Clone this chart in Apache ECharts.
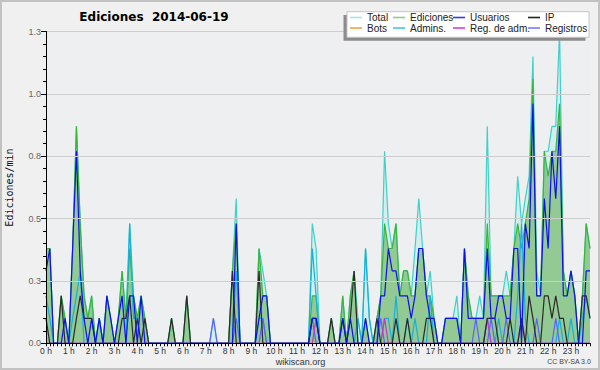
<!DOCTYPE html>
<html><head><meta charset="utf-8">
<script src="https://cdn.jsdelivr.net/npm/echarts@6/dist/echarts.min.js"></script>
<style>html,body{margin:0;padding:0;background:#f0f0f0}#c{width:600px;height:370px;}</style>
</head><body><div id="c"></div>
<script>
// 10-minute bins, hours 0..23
const hours = [0,1,2,3,4,5,6,7,8,9,10,11,12,13,14,15,16,17,18,19,20,21,22,23];
const minutes = [0,10,20,30,40,50];
const categories = [];
hours.forEach(h => minutes.forEach(m => categories.push(h + ':' + (m < 10 ? '0' + m : m))));

const yTicks = [0, 0.25, 0.5, 0.75, 1.0, 1.25];

const total = [
 0.38,0.38,0,0,0.19,0.1,  0,0.38,0.87,0.48,0.19,0.1,  0.19,0,0.1,0,0.19,0.1,  0,0.1,0.29,0.1,0.48,0.19,
 0.1,0.19,0.1,0,0,0,  0,0,0,0.1,0,0,  0,0.19,0,0,0,0,  0,0,0.1,0,0,0,
 0,0.29,0.58,0,0,0,  0,0,0.38,0.29,0.19,0,  0,0,0,0,0,0,  0,0,0,0,0.48,0.38,
 0,0,0,0.1,0,0,  0.19,0,0.19,0.29,0.1,0,  0.38,0.1,0,0.1,0.19,0.77,  0.48,0.38,0.48,0.19,0.29,0.29,
 0.19,0.38,0.58,0.38,0.19,0.29,  0.1,0,0,0.1,0.1,0.1,  0.19,0,0.38,0.19,0.1,0.1,  0.19,0.1,0.87,0.19,0.19,0.19,
 0.19,0.29,0.19,0.38,0.67,0.48,  0.58,0.67,1.15,0.29,0.19,0.77,  0.77,0.87,0.87,1.25,0.29,0.19,  0.29,0.19,0,0.19,0.48,0.38
];
const ediciones = [
 0.38,0.38,0,0,0.19,0.1,  0,0.38,0.87,0.48,0.19,0.1,  0.19,0,0.1,0,0.19,0.1,  0,0.1,0.29,0.1,0.38,0.19,
 0.1,0.19,0.1,0,0,0,  0,0,0,0.1,0,0,  0,0.19,0,0,0,0,  0,0,0,0,0,0,
 0,0.29,0.48,0,0,0,  0,0,0.38,0.19,0.19,0,  0,0,0,0,0,0,  0,0,0,0,0.19,0.19,
 0,0,0,0.1,0,0,  0.19,0,0.19,0.29,0,0,  0.1,0,0,0.1,0.19,0.48,  0.38,0.38,0.48,0.19,0.29,0.29,
 0.19,0.19,0.38,0.38,0.19,0.19,  0.1,0,0,0.1,0.1,0.1,  0.1,0,0.38,0.19,0.1,0.1,  0.1,0.1,0.48,0.19,0.19,0.19,
 0.19,0.19,0.19,0.38,0.48,0.38,  0.48,0.58,1.06,0.19,0.19,0.77,  0.67,0.77,0.77,0.96,0.29,0.19,  0.29,0.19,0,0.19,0.48,0.38
];
const usuarios = [
 0.29,0.38,0,0,0,0.1,  0,0.38,0.77,0.29,0.1,0,  0.1,0,0.1,0,0.19,0.1,  0,0.1,0.19,0,0.19,0.19,
 0,0.19,0,0,0,0,  0,0,0,0,0,0,  0,0,0,0,0,0,  0,0,0,0,0,0,
 0,0,0.48,0,0,0,  0,0,0.1,0.19,0.19,0,  0,0,0,0,0,0,  0,0,0,0,0.1,0.1,
 0,0,0,0,0,0,  0.1,0,0.1,0,0,0,  0.1,0,0,0,0.19,0.19,  0.38,0.29,0.29,0.19,0.19,0.19,
 0.1,0.19,0.38,0.38,0.19,0.1,  0.1,0,0,0.1,0.1,0.1,  0.1,0,0.38,0.1,0.1,0.1,  0.1,0.1,0.38,0.1,0.1,0.19,
 0.19,0.1,0.1,0.38,0.38,0,  0.48,0.38,0.96,0.19,0.19,0.58,  0.38,0.77,0.58,0.87,0.19,0.19,  0.29,0.19,0,0,0.29,0.29
];
const ip = [
 0.1,0,0,0,0.19,0,  0,0,0.1,0.19,0.1,0.1,  0.1,0,0,0,0,0,  0,0,0.1,0.1,0.19,0,
 0.1,0,0.1,0,0,0,  0,0,0,0.1,0,0,  0,0.19,0,0,0,0,  0,0,0,0,0,0,
 0,0.29,0,0,0,0,  0,0,0.29,0,0,0,  0,0,0,0,0,0,  0,0,0,0,0.1,0.1,
 0,0,0,0.1,0,0,  0.1,0,0.1,0.29,0,0,  0,0,0,0.1,0,0,  0,0,0.1,0,0,0.1,
 0,0,0,0,0.1,0.1,  0,0,0,0,0,0,  0,0,0,0,0,0,  0,0,0.1,0.1,0.1,0,
 0,0,0.1,0,0,0.1,  0,0.19,0.1,0,0,0.19,  0.19,0.1,0.19,0.1,0.1,0,  0,0,0,0.19,0.19,0.1
];
const bots = new Array(144).fill(0);
const admins = [
 0.19,0.1,0,0,0,0,  0,0.1,0.19,0.29,0,0,  0,0,0.1,0,0,0,  0,0,0,0,0.48,0.1,
 0.1,0,0,0,0,0,  0,0,0,0,0,0,  0,0,0,0,0,0,  0,0,0,0,0,0,
 0,0,0.29,0,0,0,  0,0,0.1,0.1,0,0,  0,0,0,0,0,0,  0,0,0,0,0.38,0.19,
 0,0,0,0,0,0,  0,0,0,0,0.1,0,  0.38,0.1,0,0,0,0.1,  0.1,0,0.19,0,0,0.1,
 0,0.1,0,0,0,0.19,  0,0,0,0,0,0,  0,0,0,0,0,0,  0,0,0.1,0,0,0.1,
 0,0,0,0,0.19,0.48,  0.1,0,0,0,0,0,  0,0,0,0.1,0,0,  0.1,0,0,0.1,0.19,0.1
];
const regAdm = [
 0,0,0,0,0,0,  0,0,0,0,0,0,  0,0,0,0,0,0,  0,0,0,0,0,0,
 0,0,0,0,0,0,  0,0,0,0,0,0,  0,0,0,0,0,0,  0,0,0,0,0,0,
 0,0,0,0,0,0,  0,0,0,0,0,0,  0,0,0,0,0,0,  0,0,0,0,0,0.1,
 0,0,0,0,0,0,  0,0,0,0,0,0,  0,0,0,0,0,0.1,  0,0,0,0,0,0,
 0,0,0,0,0,0,  0,0,0,0,0,0,  0,0,0,0,0,0,  0,0,0.1,0,0,0,
 0,0,0,0,0,0.1,  0,0,0,0,0,0,  0,0,0,0,0,0,  0,0,0,0,0,0
];
const registros = [
 0,0,0,0,0,0,  0,0,0,0,0,0,  0,0,0,0,0,0,  0,0,0,0,0,0,
 0,0,0,0,0,0,  0,0,0,0,0,0,  0,0,0,0,0,0,  0,0,0.1,0,0,0,
 0,0,0.1,0,0,0,  0,0,0,0.1,0,0,  0,0,0,0,0,0,  0,0,0,0,0.1,0,
 0,0,0,0,0,0,  0,0,0,0,0,0,  0,0,0,0,0.1,0,  0,0,0,0,0,0,
 0,0,0,0,0,0,  0,0,0,0,0,0,  0,0,0,0,0,0.1,  0,0,0,0.1,0,0,
 0,0.1,0,0,0,0,  0,0,0,0.1,0,0,  0,0,0.1,0,0,0,  0,0,0,0,0,0
];

const legendItems = [
 {name:'Total', color:'#a8e4e4', left:350, top:12.5},
 {name:'Ediciones', color:'#88d088', left:393, top:12.5},
 {name:'Usuarios', color:'#3a3ae0', left:453, top:12.5},
 {name:'IP', color:'#222222', left:528, top:12.5},
 {name:'Bots', color:'#f5a040', left:350, top:23},
 {name:'Admins.', color:'#40c8d8', left:393, top:23},
 {name:'Reg. de adm.', color:'#cc44dd', left:453, top:23},
 {name:'Registros', color:'#7a7aff', left:528, top:23}
];

function line(name, data, color, extra) {
  return Object.assign({
    name, type:'line', data, symbol:'none', showSymbol:false, animation:false,
    lineStyle:{color, width:1.2}, itemStyle:{color}, emphasis:{disabled:true}
  }, extra || {});
}

const chart = echarts.init(document.getElementById('c'), null, {renderer:'svg'});
chart.setOption({
  backgroundColor:'#f0f0f0',
  animation:false,
  grid:{left:46, right:10, top:31.5, bottom:26.7, show:true, backgroundColor:'#eeeff1', borderWidth:0},
  xAxis:{
    type:'category', data:categories, boundaryGap:false, z:5,
    axisLine:{lineStyle:{color:'#000', width:1}},
    axisTick:{show:true, interval:0, length:3, lineStyle:{color:'#000'}},
    axisLabel:{interval:5, fontSize:8.5, color:'#333', margin:3, fontFamily:'Liberation Sans',
      formatter:(v)=> v.split(':')[0] + ' h'},
    splitLine:{show:false}
  },
  yAxis:{
    type:'value', min:yTicks[0], max:yTicks[yTicks.length-1], interval:0.25, z:5,
    axisLine:{show:true, lineStyle:{color:'#000', width:1}},
    axisTick:{show:true, length:5, lineStyle:{color:'#000'}},
    minorTick:{show:true, splitNumber:5, length:3, lineStyle:{color:'#000'}},
    axisLabel:{fontSize:9, color:'#666', margin:5, fontFamily:'Liberation Sans', formatter:(v)=>v.toFixed(1)},
    splitLine:{show:true, lineStyle:{color:'#cdcdcd', width:1}}
  },
  legend: legendItems.map(it => ({
    left:it.left, top:it.top, z:20, padding:0, itemGap:0, itemWidth:12, itemHeight:1.6, selectedMode:false,
    textStyle:{fontSize:10, color:'#222', fontFamily:'Liberation Sans'},
    data:[{name:it.name, icon:'rect', itemStyle:{color:it.color, borderWidth:0}}]
  })),
  graphic:[
    {type:'rect', z:15, shape:{x:343.5, y:15, width:242, height:25.8}, style:{fill:'#8c8c8c'}},
    {type:'rect', z:16, shape:{x:347, y:11.7, width:242, height:25.6}, style:{fill:'#ffffff', stroke:'#c4c4c4', lineWidth:1}},
    {type:'text', z:20, x:154, y:16.5, style:{text:'Ediciones  2014-06-19', fill:'#000', font:'bold 12px "DejaVu Sans"', textAlign:'center', textVerticalAlign:'middle'}},
    {type:'text', z:20, x:9.5, y:187.5, rotation:Math.PI/2, style:{text:'Ediciones/min', fill:'#111', font:'10px "DejaVu Sans Mono"', textAlign:'center', textVerticalAlign:'middle'}},
    {type:'text', z:20, x:300.5, y:361.5, style:{text:'wikiscan.org', fill:'#333', font:'9px "Liberation Sans"', textAlign:'center', textVerticalAlign:'middle'}},
    {type:'text', z:20, x:569, y:361.5, style:{text:'CC BY-SA 3.0', fill:'#444', font:'7px "Liberation Sans"', textAlign:'center', textVerticalAlign:'middle'}},
    {type:'rect', z:30, shape:{x:1, y:1, width:598, height:368}, style:{fill:'none', stroke:'#c2c2c2', lineWidth:2}}
  ],
  series:[
    line('Total', total, '#3fd0c8', {areaStyle:{color:'#d3eeee', opacity:1}}),
    line('Ediciones', ediciones, '#3cb43c', {areaStyle:{color:'#93c993', opacity:1}}),
    line('Bots', bots, '#f5a040'),
    line('Admins.', admins, '#18b0d8'),
    line('Registros', registros, '#6060ff'),
    line('Reg. de adm.', regAdm, '#cc33cc'),
    line('IP', ip, '#2a2a2a'),
    line('Usuarios', usuarios, '#1010e8')
  ]
});
</script>
</body></html>
